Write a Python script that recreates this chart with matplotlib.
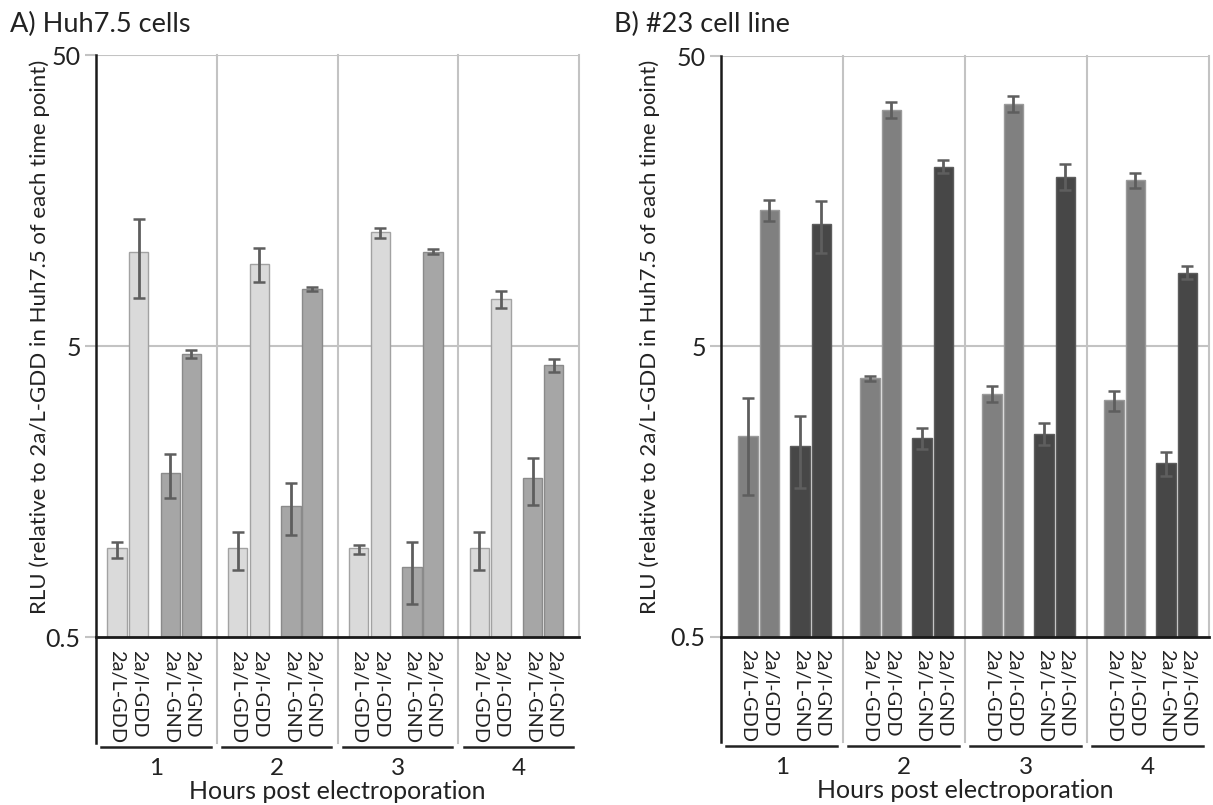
''' luciferase replication of 2a constructs, Huh7.5 vs #23 cell line '''

import numpy as np
import matplotlib
matplotlib.use('Agg')
import matplotlib.pyplot as plt

plt.rcParams['font.family'] = ['Lato', 'DejaVu Sans']

hours = ['1', '2', '3', '4']
constructs = ['2a/L-GDD', '2a/l-GDD', '2a/L-GND', '2a/l-GND']

# rows = hours, cols = constructs (RLU relative to 2a/L-GDD in Huh7.5)
huh_mean = [[1.00, 10.55, 1.82, 4.69],
            [1.00, 9.57, 1.40, 7.85],
            [1.00, 12.33, 0.86, 10.55],
            [1.00, 7.25, 1.75, 4.30]]
huh_hi = [[1.06, 13.7, 2.13, 4.84],
          [1.15, 10.86, 1.69, 8.00],
          [1.04, 12.75, 1.06, 10.77],
          [1.15, 7.73, 2.06, 4.52]]
huh_lo = [[0.94, 7.33, 1.51, 4.56],
          [0.85, 8.30, 1.12, 7.74],
          [0.97, 11.80, 0.65, 10.35],
          [0.85, 6.75, 1.42, 4.09]]

c23_mean = [[2.45, 14.7, 2.25, 13.15],
            [3.87, 32.6, 2.41, 20.8],
            [3.43, 34.1, 2.49, 19.2],
            [3.26, 18.7, 1.98, 8.97]]
c23_hi = [[3.33, 15.9, 2.87, 15.8],
          [3.94, 34.7, 2.61, 21.9],
          [3.66, 36.3, 2.72, 21.2],
          [3.51, 19.8, 2.17, 9.42]]
c23_lo = [[1.54, 13.5, 1.62, 10.5],
          [3.80, 30.5, 2.22, 19.8],
          [3.21, 32.0, 2.28, 17.3],
          [3.00, 17.5, 1.79, 8.55]]

grid_c = '#c3c3c3'
err_c = '#5e5e5e'


def panel(ax, mean, hi, lo, faces, edges, offs):
    mean = np.array(mean)
    hi = np.array(hi)
    lo = np.array(lo)
    ax.set_yscale('log')
    ax.set_xlim(0, 4)
    ax.set_ylim(0.5, 50)
    trans = ax.get_xaxis_transform()
    # grid
    for yv in [5, 50]:
        ax.axhline(yv, color=grid_c, lw=1.5, zorder=0)
    for g in range(1, 4):
        ax.plot([g, g], [-0.182, 1], color=grid_c, lw=1.5, transform=trans,
                clip_on=False, zorder=0)
    ax.plot([4, 4], [0, 1], color=grid_c, lw=1.5, transform=trans, clip_on=False, zorder=0)
    ax.plot([0, 0], [-0.182, 1], color='#1a1a1a', lw=1.8, transform=trans,
            clip_on=False, zorder=3)
    for j in range(4):
        x = np.arange(4) + offs[j]
        ax.bar(x, mean[:, j], width=0.16, bottom=0.01, color=faces[j],
               edgecolor=edges[j], linewidth=1.0, zorder=2)
        ax.errorbar(x, mean[:, j], yerr=[mean[:, j] - lo[:, j], hi[:, j] - mean[:, j]],
                    fmt='none', ecolor=err_c, elinewidth=2, capsize=4.5, capthick=1.8,
                    zorder=4)
        for g in range(4):
            ax.text(g + offs[j], -0.022, constructs[j], rotation=-90, ha='center',
                    va='top', fontsize=14.3, color='#222222', transform=trans)
    for g in range(4):
        ax.plot([g + 0.045, g + 0.95], [-0.189, -0.189], color='#222222', lw=1.8,
                transform=trans, clip_on=False)
        ax.text(g + 0.5, -0.225, hours[g], ha='center', va='center', fontsize=17.5,
                color='#222222', transform=trans)
    ax.text(2, -0.265, 'Hours post electroporation', ha='center', va='center',
            fontsize=18, color='#222222', transform=trans)
    ax.axhline(0.5, color='#1a1a1a', lw=2, zorder=3, clip_on=False)
    for s in ax.spines.values():
        s.set_visible(False)
    ax.set_xticks([])
    ax.set_yticks([0.5, 5, 50])
    ax.set_yticklabels(['0.5', '5', '50'])
    ax.minorticks_off()
    ax.tick_params(axis='y', length=8, width=1.5, color=grid_c, labelsize=18,
                   labelcolor='#222222', pad=3)
    ax.get_yticklines()[0].set_color('#1a1a1a')


fig = plt.figure(figsize=(12.13, 8.05), dpi=100)
ax1 = fig.add_axes([96 / 1213, 1 - 637.3 / 805, 483 / 1213, 582 / 805])
ax2 = fig.add_axes([721 / 1213, 1 - 636.7 / 805, 488 / 1213, 580.7 / 805])

panel(ax1, huh_mean, huh_hi, huh_lo,
      ['#dadada', '#dadada', '#a6a6a6', '#a6a6a6'],
      ['#a2a2a2', '#a2a2a2', '#8a8a8a', '#8a8a8a'],
      [0.174, 0.354, 0.616, 0.79])
panel(ax2, c23_mean, c23_hi, c23_lo,
      ['#808080', '#808080', '#474747', '#474747'],
      ['#9a9a9a', '#9a9a9a', '#5c5c5c', '#5c5c5c'],
      [0.22, 0.396, 0.649, 0.823])

ylab = 'RLU (relative to 2a/L-GDD in Huh7.5 of each time point)'
fig.text(40 / 1213, 1 - 337 / 805, ylab, rotation=90, ha='center', va='center',
         fontsize=16, color='#222222')
fig.text(650 / 1213, 1 - 337 / 805, ylab, rotation=90, ha='center', va='center',
         fontsize=16, color='#222222')
fig.text(10 / 1213, 1 - 24 / 805, 'A) Huh7.5 cells', ha='left', va='center',
         fontsize=19.5, color='#222222')
fig.text(614 / 1213, 1 - 24 / 805, 'B) #23 cell line', ha='left', va='center',
         fontsize=19.5, color='#222222')

plt.savefig('out.png', dpi=100)
